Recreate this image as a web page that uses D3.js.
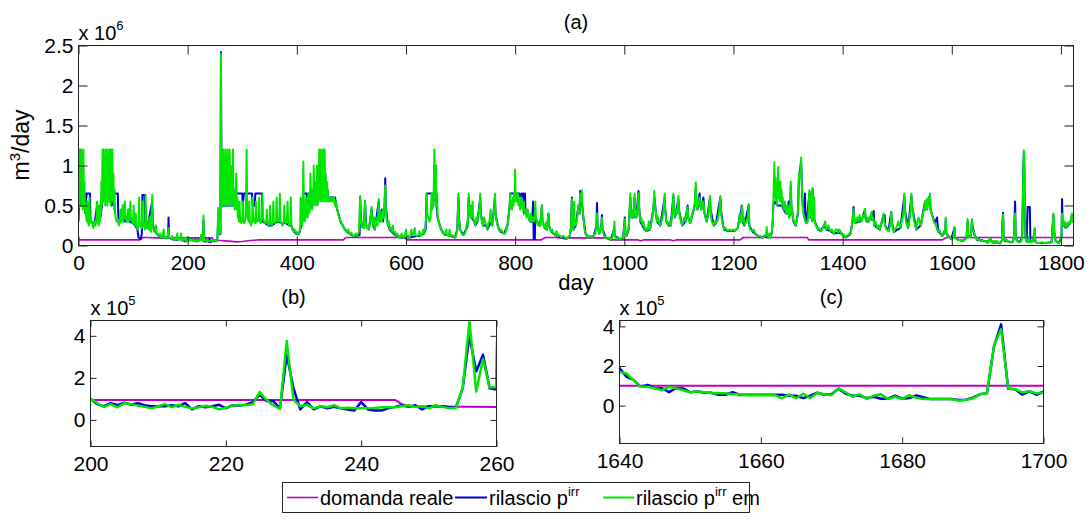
<!DOCTYPE html>
<html>
<head>
<meta charset="utf-8">
<script src="https://cdn.jsdelivr.net/npm/d3@7"></script>
<style>
  body { margin: 0; background: #fff; }
  svg { display: block; }
  text { font-family: "Liberation Sans", Arial, sans-serif; fill: #000; }
</style>
</head>
<body>
<svg id="fig" width="1091" height="523"></svg>
<script>
// ---------------------------------------------------------------
// Data: daily flows in m^3/day.
// Long-run series are stored as [day, value in 10^6 m^3/day];
// the two detail windows are daily values in 10^5 m^3/day.
// ---------------------------------------------------------------

// rilascio p^irr em (green)
const releaseEmPts = [
[0,0.55],[1,1.2],[2,0.48],[3,1.2],[4,0.6],[5,1.2],[6,0.5],[7,0.95],[8,0.45],[9,1.2],[10,0.5],[11,0.8],[12,0.4],[13,0.45],[15,0.3],[16,0.55],[17,0.3],[19,0.25],[20,0.6],[21,0.35],[23,0.28],[25,0.3],[27,0.22],[29,0.3],[31,0.25],[33,0.35],[34,0.55],[35,0.3],[37,0.25],[38,0.5],[39,0.3],[41,0.4],[42,0.8],[43,0.5],[44,1.2],[45,0.55],[46,1.2],[47,0.6],[48,0.9],[49,0.5],[50,1.2],[51,0.55],[52,1.2],[53,0.5],[54,1.0],[55,0.6],[56,1.2],[57,0.55],[58,1.2],[59,0.5],[60,1.2],[61,0.6],[62,1.2],[63,0.55],[64,0.9],[65,0.45],[66,0.7],[67,0.4],[68,0.35],[70,0.3],[72,0.32],[74,0.25],[76,0.3],[77,0.45],[78,0.3],[80,0.35],[81,0.5],[82,0.3],[84,0.4],[85,0.55],[86,0.35],[88,0.3],[90,0.35],[91,0.45],[92,0.3],[94,0.35],[95,0.55],[96,0.35],[98,0.3],[100,0.28],[101,0.5],[102,0.3],[104,0.25],[105,0.4],[106,0.25],[108,0.2],[110,0.25],[111,0.6],[112,0.3],[114,0.25],[116,0.22],[117,0.55],[118,0.3],[120,0.25],[122,0.2],[123,0.63],[124,0.3],[126,0.22],[128,0.2],[130,0.35],[131,0.2],[133,0.17],[135,0.63],[136,0.25],[138,0.18],[140,0.17],[142,0.25],[143,0.15],[146,0.14],[148,0.12],[150,0.15],[151,0.1],[154,0.1],[156,0.2],[157,0.1],[160,0.09],[163,0.1],[165,0.22],[166,0.1],[170,0.08],[172,0.12],[174,0.08],[178,0.07],[181,0.15],[182,0.07],[186,0.08],[188,0.15],[189,0.07],[192,0.06],[195,0.1],[197,0.05],
[261,2.4],[262,0.5],[263,0.9],[264,0.5],[265,1.2],[266,0.55],[267,1.0],[268,0.5],[269,1.2],[270,0.6],[271,0.9],[272,0.5],[273,1.2],[274,0.55],[275,0.8],[276,0.5],[277,1.2],[278,0.6],[279,1.0],[280,0.5],[281,0.75],[282,0.5],[283,1.2],[284,0.55],[285,0.7],[286,0.45],[287,0.65],[288,0.5],[289,0.9],[290,0.45],[291,0.6],[292,0.35],[293,0.5],[294,0.3],[295,0.55],[296,0.3],[297,0.35],[298,0.28],[300,0.3],[301,0.55],[302,0.3],[304,0.28],[306,0.35],[307,0.6],[308,1.2],[309,0.5],[310,0.35],[312,0.3],[313,0.55],[314,0.3],[316,0.25],[318,0.3],[319,0.6],[320,0.35],[322,0.3],[324,0.28],[325,0.55],[326,0.3],[328,0.3],[330,0.35],[331,0.6],[332,0.3],[334,0.28],[336,0.35],[337,0.65],[338,0.35],[340,0.3],[342,0.28],[344,0.3],[345,0.45],[346,0.28],[348,0.25],[350,0.3],[351,0.5],[352,0.28],[354,0.25],[356,0.3],[357,0.55],[358,0.3],[360,0.28],[362,0.3],[363,0.6],[364,0.35],[366,0.3],[368,0.35],[369,0.65],[370,0.3],[372,0.28],[374,0.25],[376,0.3],[377,0.5],[378,0.3],[380,0.28],[382,0.35],[383,0.55],[384,0.3],[386,0.25],[388,0.3],[389,0.6],[390,0.25],[392,0.2],[394,0.18],[396,0.2],[398,0.15],[400,0.17],[402,0.15],[404,0.14],[406,0.2],[407,0.6],[408,0.3],[410,0.25],[411,0.55],[412,1.05],[413,0.45],[414,0.3],[416,0.35],[417,0.6],[418,0.4],[420,0.35],[421,0.65],[422,0.4],[424,0.45],[425,0.9],[426,0.5],[427,0.7],[428,0.45],[429,0.6],[430,0.5],[431,1.0],[432,0.55],[433,0.8],[434,0.5],[435,0.75],[436,0.55],[437,1.0],[438,0.5],[439,0.85],[440,0.55],[441,1.2],[442,0.6],[443,1.2],[444,0.55],[445,1.0],[446,0.6],[447,1.2],[448,0.55],[449,1.2],[450,0.6],[451,1.2],[452,0.55],[453,0.9],[454,0.6],[455,0.8],[456,0.55],[457,0.7],[458,0.55],[460,0.6],[462,0.55],[464,0.6],[466,0.55],[468,0.6],[470,0.5],[472,0.55],[474,0.45],[476,0.4],[478,0.35],[480,0.3],[482,0.28],[484,0.25],[486,0.22],[488,0.2],[490,0.18],[492,0.17],[494,0.2],[496,0.15],[498,0.14],[500,0.16],[502,0.13],[504,0.12],[506,0.12],[508,0.15],[510,0.12],[512,0.14],[514,0.18],[516,0.62],[517,0.35],[519,0.23],[521,0.3],[523,0.22],[525,0.56],[526,0.3],[528,0.22],[530,0.25],[532,0.2],[534,0.3],[537,0.48],[538,0.3],[540,0.25],[542,0.35],[543,0.2],[545,0.3],[547,0.35],[548,0.25],[550,0.58],[551,0.35],[553,0.3],[555,0.42],[556,0.3],[558,0.45],[559,0.35],[561,0.6],[562,0.75],[563,0.45],[565,0.3],[567,0.25],[569,0.3],[570,0.2],[572,0.22],[574,0.18],[576,0.25],[577,0.15],[580,0.17],[582,0.12],[584,0.15],[586,0.1],[588,0.12],[590,0.1],[592,0.15],[594,0.11],[596,0.1],[598,0.13],[600,0.2],[601,0.1],[604,0.12],[606,0.1],[608,0.12],[610,0.2],[611,0.13],[614,0.15],[616,0.22],[617,0.13],[620,0.12],[623,0.13],[625,0.18],[626,0.12],[628,0.13],[630,0.15],[632,0.2],[633,0.15],[635,0.2],[637,0.35],[638,0.65],[639,0.4],[641,0.35],[643,0.3],[645,0.35],[647,0.65],[648,0.45],[650,0.5],[651,0.75],[652,1.2],[653,0.9],[654,0.6],[655,1.0],[656,0.5],[657,0.65],[658,0.35],[660,0.3],[662,0.25],[664,0.2],[666,0.18],[668,0.15],[670,0.14],[672,0.15],[674,0.2],[675,0.13],[678,0.12],[680,0.2],[681,0.12],[684,0.13],[686,0.11],[688,0.12],[690,0.1],[692,0.12],[694,0.2],[696,0.65],[697,0.35],[699,0.2],[702,0.15],[705,0.13],[708,0.15],[710,0.2],[712,0.3],[713,0.25],[715,0.65],[716,0.4],[718,0.35],[719,0.5],[720,0.35],[722,0.55],[723,0.35],[725,0.3],[727,0.25],[729,0.35],[731,0.3],[733,0.4],[735,0.5],[736,0.65],[737,0.4],[739,0.3],[741,0.25],[743,0.35],[745,0.3],[747,0.25],[749,0.2],[751,0.28],[753,0.3],[755,0.45],[756,0.3],[758,0.25],[760,0.35],[762,0.5],[763,0.65],[764,0.4],[766,0.3],[768,0.25],[770,0.2],[772,0.18],[774,0.2],[776,0.18],[778,0.16],[780,0.15],[782,0.15],[784,0.2],[786,0.25],[788,0.35],[790,0.5],[791,0.65],[792,0.5],[794,0.45],[796,0.6],[797,0.5],[798,0.65],[799,0.55],[800,0.95],[801,0.6],[803,0.55],[805,0.65],[806,0.5],[808,0.6],[809,0.45],[811,0.6],[812,0.5],[814,0.45],[816,0.55],[817,0.4],[819,0.45],[821,0.35],[823,0.45],[825,0.35],[827,0.3],[829,0.4],[831,0.3],[833,0.35],[835,0.3],[837,0.55],[838,0.35],[840,0.3],[842,0.25],[844,0.3],[846,0.25],[849,0.5],[850,0.3],[852,0.25],[854,0.22],[856,0.28],[858,0.2],[861,0.4],[862,0.25],[864,0.2],[866,0.18],[868,0.2],[870,0.15],[872,0.15],[874,0.13],[876,0.18],[878,0.12],[880,0.13],[882,0.12],[885,0.1],[888,0.12],[891,0.1],[894,0.08],[897,0.1],[900,0.12],[902,0.2],[904,0.58],[905,0.3],[907,0.2],[908,0.55],[909,0.3],[911,0.25],[913,0.3],[916,0.5],[918,0.4],[919,0.65],[920,0.55],[922,0.69],[923,0.5],[925,0.35],[927,0.2],[929,0.15],[932,0.12],[935,0.1],[938,0.12],[941,0.1],[944,0.12],[947,0.15],[949,0.25],[950,0.4],[951,0.25],[954,0.15],[956,0.2],[958,0.25],[959,0.35],[960,0.2],[963,0.12],[966,0.1],[969,0.08],[972,0.1],[975,0.07],[978,0.1],[981,0.2],[982,0.3],[983,0.12],[986,0.08],[989,0.1],[992,0.07],[995,0.09],[998,0.1],[1001,0.33],[1002,0.15],[1004,0.12],[1006,0.18],[1008,0.2],[1009,0.35],[1010,0.5],[1011,0.65],[1012,0.4],[1014,0.35],[1016,0.45],[1017,0.35],[1019,0.65],[1020,0.45],[1022,0.35],[1024,0.4],[1026,0.65],[1027,0.5],[1029,0.3],[1031,0.35],[1033,0.25],[1035,0.3],[1037,0.2],[1039,0.22],[1041,0.18],[1043,0.2],[1045,0.3],[1047,0.2],[1049,0.25],[1051,0.35],[1053,0.45],[1055,0.68],[1056,0.5],[1058,0.4],[1060,0.3],[1062,0.35],[1064,0.28],[1066,0.25],[1068,0.3],[1070,0.35],[1072,0.45],[1074,0.65],[1075,0.45],[1077,0.3],[1079,0.28],[1081,0.25],[1083,0.3],[1085,0.25],[1087,0.35],[1089,0.5],[1090,0.65],[1091,0.45],[1093,0.35],[1095,0.45],[1097,0.4],[1099,0.62],[1100,0.45],[1102,0.35],[1104,0.3],[1106,0.25],[1108,0.3],[1110,0.35],[1112,0.3],[1114,0.4],[1116,0.48],[1117,0.35],[1119,0.3],[1121,0.28],[1123,0.35],[1125,0.4],[1127,0.45],[1129,0.5],[1131,0.79],[1132,0.55],[1134,0.45],[1136,0.55],[1138,0.6],[1139,0.5],[1141,0.45],[1143,0.55],[1145,0.55],[1147,0.4],[1149,0.35],[1151,0.3],[1153,0.35],[1155,0.45],[1157,0.62],[1158,0.45],[1160,0.3],[1162,0.28],[1164,0.25],[1166,0.3],[1168,0.28],[1170,0.3],[1172,0.35],[1174,0.45],[1176,0.62],[1177,0.45],[1179,0.3],[1181,0.25],[1183,0.2],[1185,0.22],[1187,0.2],[1190,0.18],[1193,0.2],[1196,0.18],[1199,0.2],[1202,0.18],[1205,0.2],[1208,0.22],[1210,0.3],[1212,0.4],[1213,0.3],[1215,0.35],[1216,0.5],[1217,0.3],[1219,0.35],[1220,0.25],[1222,0.28],[1224,0.3],[1226,0.35],[1228,0.52],[1229,0.25],[1231,0.2],[1234,0.18],[1237,0.2],[1240,0.15],[1243,0.13],[1246,0.12],[1249,0.12],[1252,0.1],[1255,0.1],[1258,0.12],[1260,0.15],[1261,0.23],[1262,0.12],[1264,0.1],[1266,0.15],[1268,0.1],[1270,0.15],[1272,0.3],[1273,0.5],[1274,0.8],[1275,1.04],[1276,0.6],[1277,0.85],[1278,0.55],[1279,0.7],[1280,0.5],[1281,0.8],[1282,0.98],[1283,0.6],[1284,0.75],[1285,0.55],[1286,0.8],[1287,0.55],[1288,0.7],[1289,0.5],[1290,0.6],[1292,0.45],[1294,0.55],[1296,0.4],[1298,0.5],[1300,0.4],[1301,0.5],[1302,0.35],[1304,0.4],[1305,0.8],[1306,0.5],[1308,0.4],[1310,0.3],[1312,0.3],[1314,0.25],[1316,0.3],[1318,0.4],[1319,0.6],[1320,0.9],[1322,0.85],[1323,1.0],[1324,1.1],[1325,0.8],[1326,0.65],[1327,0.5],[1328,0.4],[1330,0.35],[1332,0.3],[1334,0.28],[1336,0.3],[1337,0.35],[1339,0.69],[1340,0.45],[1341,0.35],[1342,0.67],[1343,0.4],[1344,0.3],[1345,0.72],[1346,0.45],[1347,0.35],[1348,0.6],[1349,0.3],[1351,0.25],[1353,0.22],[1355,0.2],[1357,0.22],[1360,0.18],[1363,0.2],[1366,0.25],[1368,0.3],[1370,0.2],[1372,0.22],[1374,0.25],[1376,0.2],[1378,0.18],[1380,0.2],[1382,0.17],[1384,0.15],[1386,0.18],[1388,0.2],[1390,0.2],[1392,0.16],[1394,0.2],[1396,0.18],[1398,0.15],[1400,0.12],[1402,0.14],[1404,0.11],[1406,0.1],[1408,0.12],[1410,0.13],[1412,0.15],[1414,0.14],[1416,0.2],[1418,0.3],[1420,0.45],[1421,0.35],[1423,0.28],[1425,0.3],[1427,0.35],[1429,0.3],[1431,0.38],[1432,0.35],[1434,0.3],[1436,0.33],[1438,0.38],[1440,0.35],[1441,0.46],[1442,0.35],[1444,0.3],[1446,0.35],[1448,0.3],[1450,0.33],[1452,0.38],[1453,0.42],[1454,0.32],[1456,0.35],[1458,0.25],[1460,0.3],[1462,0.25],[1464,0.22],[1466,0.25],[1468,0.2],[1470,0.25],[1472,0.3],[1474,0.35],[1475,0.4],[1476,0.3],[1478,0.25],[1480,0.2],[1482,0.2],[1484,0.18],[1486,0.22],[1488,0.3],[1489,0.42],[1490,0.3],[1492,0.2],[1494,0.17],[1496,0.2],[1498,0.22],[1500,0.25],[1502,0.3],[1504,0.25],[1506,0.22],[1508,0.3],[1510,0.35],[1512,0.45],[1513,0.65],[1514,0.45],[1516,0.3],[1518,0.25],[1520,0.22],[1522,0.3],[1524,0.4],[1526,0.65],[1527,0.5],[1529,0.4],[1531,0.3],[1533,0.25],[1535,0.2],[1537,0.3],[1539,0.35],[1541,0.3],[1543,0.25],[1545,0.3],[1547,0.4],[1549,0.45],[1551,0.55],[1552,0.45],[1554,0.58],[1555,0.45],[1557,0.55],[1558,0.6],[1559,0.5],[1560,0.65],[1561,0.45],[1563,0.4],[1565,0.35],[1567,0.3],[1569,0.28],[1571,0.25],[1573,0.2],[1575,0.18],[1577,0.2],[1580,0.15],[1583,0.12],[1586,0.15],[1588,0.2],[1589,0.35],[1590,0.15],[1593,0.12],[1596,0.1],[1599,0.08],[1602,0.1],[1604,0.15],[1605,0.23],[1606,0.1],[1609,0.08],[1612,0.07],[1615,0.07],[1618,0.06],[1621,0.06],[1624,0.07],[1627,0.1],[1629,0.33],[1630,0.12],[1633,0.1],[1635,0.12],[1637,0.33],[1638,0.2],[1639,0.18],
[1703,0.05],[1706,0.04],[1709,0.04],[1712,0.05],[1714,0.1],[1715,0.3],[1716,0.4],[1717,0.15],[1719,0.06],[1721,0.05],[1724,0.04],[1727,0.05],[1729,0.1],[1730,0.5],[1731,0.9],[1732,1.19],[1733,1.15],[1734,0.6],[1735,0.1],[1737,0.05],[1740,0.04],[1741,0.1],[1742,0.06],[1745,0.04],[1748,0.05],[1750,0.1],[1751,0.18],[1752,0.22],[1753,0.05],[1756,0.03],[1760,0.03],[1765,0.04],[1770,0.03],[1775,0.03],[1780,0.03],[1783,0.04],[1785,0.25],[1786,0.4],[1787,0.3],[1788,0.15],[1790,0.06],[1793,0.04],[1796,0.03],[1799,0.05],[1801,0.1],[1802,0.4],[1803,0.3],[1805,0.25],[1807,0.3],[1809,0.22],[1811,0.28],[1813,0.25],[1815,0.3],[1817,0.28],[1819,0.35],[1820,0.4],[1821,0.3],[1822,0.3],[1823,0.32],[1825,0.3]
];
// daily, days 200..260 and 1640..1700 (10^5 m^3/day)
const releaseEmB = [1.0,0.8,0.62,0.75,0.6,0.8,0.75,0.68,0.62,0.55,0.65,0.75,0.6,0.72,0.62,0.55,0.6,0.68,0.62,0.5,0.58,0.68,0.72,0.7,0.75,1.33,0.95,0.7,0.52,3.75,0.95,0.65,0.72,0.55,0.65,0.6,0.7,0.55,0.58,0.56,0.55,0.55,0.57,0.6,0.6,0.6,0.65,0.7,0.62,0.65,0.55,0.7,0.62,0.55,0.58,1.5,4.7,1.35,2.9,1.55,1.55];
const releaseEmC = [1.7,1.62,1.28,0.95,0.95,0.87,0.78,0.95,0.87,0.78,0.67,0.73,0.67,0.62,0.62,0.62,0.57,0.57,0.53,0.53,0.53,0.53,0.53,0.37,0.57,0.37,0.6,0.37,0.65,0.57,0.53,0.87,0.67,0.45,0.57,0.33,0.5,0.57,0.33,0.45,0.33,0.53,0.4,0.33,0.33,0.33,0.33,0.33,0.25,0.28,0.37,0.57,0.62,3.03,3.87,0.87,0.83,0.67,0.73,0.62,0.65];

// rilascio p^irr (blue)
const releasePts = [
[0,0.3],[1,0.6],[3,0.65],[5,0.5],[6,0.65],[12,0.65],[13,0.5],[15,0.65],[21,0.65],[22,0.3],[25,0.28],[30,0.3],[34,0.5],[36,0.28],[40,0.35],[43,0.5],[45,0.65],[60,0.65],[61,0.5],[62,0.65],[72,0.65],[73,0.35],[78,0.3],[82,0.5],[84,0.3],[88,0.3],[92,0.45],[94,0.3],[100,0.28],[104,0.25],[108,0.2],[110,0.1],[114,0.08],[116,0.15],[117,0.63],[121,0.63],[122,0.3],[126,0.22],[135,0.55],[136,0.25],[143,0.15],[148,0.12],[151,0.1],[157,0.1],[164,0.1],[165,0.35],[166,0.1],[170,0.08],[178,0.07],[186,0.08],[192,0.06],[197,0.05],
[261,2.42],[262,0.5],[270,0.5],[287,0.5],[288,0.65],[300,0.65],[301,0.5],[303,0.65],[318,0.65],[319,0.5],[323,0.5],[324,0.65],[336,0.65],[337,0.3],[342,0.28],[348,0.25],[354,0.25],[360,0.28],[366,0.3],[372,0.28],[380,0.28],[386,0.25],[390,0.25],[394,0.18],[398,0.15],[404,0.14],[408,0.25],[410,0.55],[412,0.65],[418,0.65],[419,0.5],[421,0.65],[435,0.65],[436,0.55],[440,0.6],[470,0.6],[472,0.5],[476,0.4],[480,0.3],[484,0.25],[488,0.2],[492,0.17],[498,0.14],[504,0.12],[510,0.12],[515,0.13],[516,0.6],[518,0.25],[523,0.22],[525,0.55],[527,0.25],[532,0.2],[537,0.45],[540,0.25],[543,0.2],[550,0.55],[552,0.3],[556,0.45],[558,0.3],[561,0.5],[562,0.84],[563,0.5],[566,0.3],[570,0.2],[577,0.15],[582,0.12],[590,0.1],[596,0.1],[606,0.1],[620,0.12],[626,0.12],[633,0.15],[636,0.2],[638,0.65],[648,0.65],[650,0.5],[651,0.65],
[655,0.65],[656,0.5],[658,0.35],[662,0.25],[666,0.18],[670,0.14],[675,0.13],[681,0.12],[686,0.11],[690,0.1],[694,0.2],[696,0.6],[697,0.35],[699,0.2],[705,0.13],[710,0.2],[713,0.25],[715,0.6],[716,0.4],[720,0.35],[725,0.3],[727,0.25],[731,0.3],[736,0.6],[737,0.4],[741,0.25],[747,0.25],[749,0.2],[756,0.3],[758,0.25],[763,0.6],[764,0.4],[768,0.25],[772,0.18],[780,0.15],[786,0.25],[790,0.5],[791,0.65],[808,0.65],[809,0.5],[812,0.65],[815,0.65],[816,0.4],[818,0.65],[819,0.45],[825,0.35],[827,0.3],[831,0.3],[833,0.55],[834,0.08],[836,0.08],[837,0.35],[840,0.3],[846,0.25],[849,0.5],[850,0.3],[854,0.22],[858,0.2],[861,0.4],[862,0.25],[866,0.18],[870,0.15],[874,0.13],[878,0.12],[885,0.1],[894,0.08],[900,0.12],[902,0.2],[904,0.6],[905,0.3],[907,0.2],[911,0.25],[916,0.5],[918,0.4],[919,0.68],[920,0.55],[923,0.5],[925,0.35],[929,0.15],[935,0.1],[944,0.12],[949,0.25],[950,0.53],[951,0.25],[954,0.15],[958,0.25],[959,0.38],[960,0.2],[966,0.1],[975,0.07],[981,0.2],[983,0.12],[992,0.07],[998,0.1],[1001,0.35],[1002,0.15],[1004,0.12],[1008,0.2],[1011,0.6],[1012,0.4],[1014,0.35],[1017,0.35],[1019,0.6],[1020,0.45],[1022,0.35],[1026,0.68],[1027,0.5],[1029,0.3],[1033,0.25],[1037,0.2],[1041,0.18],[1047,0.2],[1053,0.45],[1055,0.6],[1056,0.55],[1058,0.4],[1060,0.3],[1066,0.25],[1074,0.6],[1075,0.45],[1077,0.3],[1081,0.25],[1085,0.25],[1090,0.62],[1091,0.45],[1093,0.35],[1099,0.58],[1100,0.45],[1106,0.25],[1112,0.3],[1116,0.5],[1117,0.35],[1121,0.28],[1129,0.5],[1131,0.72],[1132,0.55],[1134,0.45],[1138,0.65],[1139,0.5],[1141,0.45],[1145,0.6],[1147,0.4],[1151,0.3],[1157,0.6],[1158,0.45],[1164,0.25],[1168,0.28],[1176,0.6],[1177,0.45],[1181,0.25],[1183,0.2],[1190,0.18],[1202,0.18],[1208,0.22],[1212,0.4],[1213,0.3],[1215,0.5],[1216,0.45],[1217,0.3],[1220,0.25],[1228,0.5],[1229,0.25],[1234,0.18],[1243,0.13],[1252,0.1],[1258,0.12],[1264,0.1],[1270,0.15],[1272,0.3],[1273,0.5],[1276,0.55],[1278,0.55],[1280,0.5],[1289,0.5],[1292,0.45],[1296,0.4],[1300,0.4],[1301,0.55],[1302,0.35],[1304,0.4],[1305,0.75],[1306,0.5],[1310,0.3],[1314,0.25],[1318,0.4],[1320,0.85],[1324,1.05],[1326,0.6],[1327,0.5],[1330,0.35],[1331,0.65],[1332,0.3],[1334,0.28],[1339,0.65],[1341,0.35],[1345,0.7],[1347,0.35],[1349,0.3],[1355,0.2],[1360,0.18],[1366,0.25],[1370,0.2],[1378,0.18],[1384,0.15],[1392,0.16],[1398,0.15],[1404,0.11],[1406,0.1],[1414,0.14],[1418,0.3],[1420,0.48],[1421,0.35],[1423,0.28],[1429,0.3],[1434,0.3],[1441,0.45],[1442,0.35],[1444,0.3],[1448,0.3],[1453,0.4],[1454,0.32],[1457,0.43],[1458,0.25],[1464,0.22],[1468,0.2],[1475,0.38],[1477,0.38],[1478,0.25],[1484,0.18],[1489,0.42],[1490,0.3],[1494,0.17],[1506,0.22],[1513,0.62],[1514,0.45],[1520,0.22],[1526,0.62],[1527,0.5],[1535,0.2],[1543,0.25],[1551,0.55],[1552,0.45],[1558,0.6],[1560,0.62],[1561,0.45],[1569,0.28],[1573,0.35],[1575,0.18],[1583,0.12],[1588,0.2],[1589,0.33],[1590,0.15],[1599,0.08],[1605,0.22],[1606,0.1],[1612,0.07],[1621,0.06],[1627,0.1],[1629,0.3],[1630,0.12],[1635,0.12],[1637,0.3],[1639,0.2],
[1703,0.05],[1709,0.04],[1712,0.05],[1714,0.1],[1716,0.55],[1717,0.15],[1719,0.06],[1724,0.04],[1729,0.1],[1731,0.9],[1732,1.15],[1734,0.5],[1735,0.1],[1737,0.05],[1739,0.48],[1743,0.48],[1744,0.04],[1748,0.05],[1750,0.1],[1752,0.2],[1753,0.05],[1756,0.03],[1770,0.03],[1783,0.04],[1786,0.38],[1788,0.15],[1790,0.06],[1796,0.03],[1801,0.1],[1802,0.58],[1803,0.3],[1805,0.25],[1809,0.22],[1813,0.25],[1817,0.28],[1820,0.38],[1821,0.3],[1825,0.3]
];
const releaseB = [1.0,0.75,0.65,0.8,0.7,0.82,0.72,0.8,0.7,0.65,0.65,0.65,0.7,0.65,0.8,0.5,0.65,0.6,0.65,0.72,0.55,0.7,0.68,0.72,0.85,1.2,0.9,0.9,0.55,3.1,1.5,0.5,0.85,0.5,0.65,0.55,0.62,0.55,0.5,0.45,0.85,0.5,0.45,0.45,0.55,0.62,0.7,0.62,0.7,0.5,0.65,0.65,0.65,0.6,0.6,1.5,4.0,2.3,3.1,1.5,1.45];
const releaseC = [1.9,1.45,1.3,0.95,1.05,0.87,0.88,0.68,0.88,0.87,0.67,0.73,0.65,0.65,0.55,0.55,0.68,0.55,0.55,0.55,0.55,0.55,0.55,0.55,0.5,0.5,0.38,0.5,0.65,0.55,0.57,0.85,0.6,0.5,0.5,0.38,0.45,0.35,0.35,0.5,0.35,0.38,0.52,0.42,0.33,0.33,0.33,0.33,0.28,0.3,0.4,0.57,0.62,3.0,4.1,0.85,0.83,0.55,0.72,0.55,0.7];

// domanda reale (magenta), 10^6 m^3/day
const demandPts = [
[0,0.07],[112,0.07],[118,0.1],[125,0.1],[145,0.095],[245,0.095],[246,0.075],[247,0.065],[260,0.062],[275,0.055],[290,0.045],[300,0.05],[310,0.06],[330,0.07],[485,0.07],[490,0.1],[598,0.1],[602,0.07],[848,0.07],[855,0.1],[875,0.1],[880,0.095],[970,0.095],[976,0.07],[1025,0.07],[1030,0.06],[1035,0.07],[1085,0.07],[1090,0.06],[1095,0.07],[1212,0.07],[1218,0.1],[1335,0.1],[1338,0.07],[1583,0.07],[1590,0.1],[1825,0.1]
];

// axes ticks
const ticksDayA = [0, 200, 400, 600, 800, 1000, 1200, 1400, 1600, 1800];
const ticksFlowA = [0, 0.5, 1, 1.5, 2, 2.5];
const ticksDayB = [200, 220, 240, 260];
const ticksDayC = [1640, 1660, 1680, 1700];
const ticksFlowBC = [0, 0.2, 0.4];

const legendLabels = ["domanda reale", "rilascio p", "rilascio p"];

// ---------------------------------------------------------------
const daily = (start, arr) => arr.map((v, i) => [start + i, v / 10]);
const merged = (...parts) => parts.flat().sort((a, b) => a[0] - b[0]);

// keep the points inside [lo, hi] plus one neighbour on each side
function windowed(data, lo, hi) {
  let i0 = data.findIndex(d => d[0] >= lo);
  if (i0 < 0) return [];
  i0 = Math.max(0, i0 - 1);
  let i1 = data.length - 1;
  for (let i = data.length - 1; i >= 0; i--) { if (data[i][0] <= hi) { i1 = i; break; } }
  i1 = Math.min(data.length - 1, i1 + 1);
  return data.slice(i0, i1 + 1);
}

const seriesList = [
  { key: "demand", color: "#c000c0", width: 1.6, data: demandPts },
  { key: "release", color: "#0000dd", width: 2, data: merged(releasePts, daily(200, releaseB), daily(1640, releaseC)) },
  { key: "releaseEm", color: "#00e600", width: 2, data: merged(releaseEmPts, daily(200, releaseEmB), daily(1640, releaseEmC)) }
];

const svg = d3.select("#fig");
svg.append("rect").attr("width", 1091).attr("height", 523).attr("fill", "#fff");

const panels = [
  { id: "a", left: 78.5, right: 1073.5, top: 45.5, bottom: 245.5, xDomain: [0, 1823], yDomain: [0, 2.5],
    xTicks: ticksDayA, yTicks: ticksFlowA, yFmt: d => d3.format("~g")(d), exp: "6",
    tick: 9, widthScale: 1, title: "(a)", titleY: 29, expY: 40 },
  { id: "b", left: 90.5, right: 496.5, top: 320.5, bottom: 446.5, xDomain: [200, 260], yDomain: [-0.1265, 0.473],
    xTicks: ticksDayB, yTicks: ticksFlowBC, yFmt: d => d3.format("~g")(Math.round(d * 10)), exp: "5",
    tick: 6, widthScale: 1.25, title: "(b)", titleY: 304, expY: 315 },
  { id: "c", left: 619.5, right: 1043.5, top: 320.5, bottom: 443.5, xDomain: [1640, 1700], yDomain: [-0.191, 0.4296],
    xTicks: ticksDayC, yTicks: ticksFlowBC, yFmt: d => d3.format("~g")(Math.round(d * 10)), exp: "5",
    tick: 6, widthScale: 1.25, title: "(c)", titleY: 304, expY: 315 }
];

const FONT = 21;

panels.forEach(p => {
  const x = d3.scaleLinear().domain(p.xDomain).range([p.left, p.right]);
  const y = d3.scaleLinear().domain(p.yDomain).range([p.bottom, p.top]);
  const g = svg.append("g").attr("class", "panel-" + p.id);

  g.append("clipPath").attr("id", "clip-" + p.id)
    .append("rect").attr("x", p.left).attr("y", p.top)
    .attr("width", p.right - p.left).attr("height", p.bottom - p.top);

  const plot = g.append("g").attr("clip-path", `url(#clip-${p.id})`);
  const line = d3.line().x(d => x(d[0])).y(d => y(d[1]));
  seriesList.forEach(s => {
    plot.append("path").datum(windowed(s.data, p.xDomain[0], p.xDomain[1]))
      .attr("d", line)
      .attr("fill", "none")
      .attr("stroke", s.color)
      .attr("stroke-width", s.width * p.widthScale)
      .attr("stroke-linejoin", "round");
  });

  // axes: ticks drawn inward on all four sides
  const styleAxis = sel => {
    sel.attr("color", "#222");
    sel.select(".domain").remove();
    sel.selectAll("text").attr("font-size", FONT).attr("font-family", '"Liberation Sans", Arial, sans-serif').attr("fill", "#000");
  };
  g.append("g").attr("transform", `translate(0,${p.bottom})`)
    .call(d3.axisBottom(x).tickValues(p.xTicks).tickSizeInner(-p.tick).tickSizeOuter(0).tickPadding(10).tickFormat(d3.format("d")))
    .call(styleAxis);
  g.append("g").attr("transform", `translate(0,${p.top})`)
    .call(d3.axisTop(x).tickValues(p.xTicks).tickSizeInner(-p.tick).tickSizeOuter(0).tickFormat(""))
    .call(styleAxis);
  g.append("g").attr("transform", `translate(${p.left},0)`)
    .call(d3.axisLeft(y).tickValues(p.yTicks).tickSizeInner(-p.tick).tickSizeOuter(0).tickPadding(5).tickFormat(p.yFmt))
    .call(styleAxis);
  g.append("g").attr("transform", `translate(${p.right},0)`)
    .call(d3.axisRight(y).tickValues(p.yTicks).tickSizeInner(-p.tick).tickSizeOuter(0).tickFormat(""))
    .call(styleAxis);

  g.append("rect")
    .attr("x", p.left).attr("y", p.top)
    .attr("width", p.right - p.left).attr("height", p.bottom - p.top)
    .attr("fill", "none").attr("stroke", "#222").attr("stroke-width", 1);

  // exponent label
  const ex = g.append("text").attr("x", p.left).attr("y", p.expY).attr("font-size", 20).text("x 10");
  ex.append("tspan").attr("dy", -10).attr("font-size", 13).text(p.exp);

  // panel title
  g.append("text").attr("x", (p.left + p.right) / 2).attr("y", p.titleY)
    .attr("text-anchor", "middle").attr("font-size", 20).text(p.title);
});

// axis titles for panel (a)
svg.append("text").attr("x", 576).attr("y", 290).attr("text-anchor", "middle").attr("font-size", 22).text("day");
const yl = svg.append("text")
  .attr("transform", "translate(29,145) rotate(-90)")
  .attr("text-anchor", "middle").attr("font-size", 23).text("m");
yl.append("tspan").attr("dy", -9).attr("font-size", 15).text("3");
yl.append("tspan").attr("dy", 9).text("/day");

// legend
const lg = svg.append("g");
lg.append("rect").attr("x", 282.5).attr("y", 482.5).attr("width", 467).attr("height", 30)
  .attr("fill", "#fff").attr("stroke", "#222").attr("stroke-width", 1);
const legendItems = [
  { s: seriesList[0], x1: 287, x2: 318, tx: 320, label: legendLabels[0], sup: null, tail: null },
  { s: seriesList[1], x1: 455, x2: 487, tx: 489, label: legendLabels[1], sup: "irr", tail: null },
  { s: seriesList[2], x1: 603, x2: 634, tx: 636, label: legendLabels[2], sup: "irr", tail: " em" }
];
legendItems.forEach(it => {
  lg.append("line").attr("x1", it.x1).attr("x2", it.x2).attr("y1", 497.5).attr("y2", 497.5)
    .attr("stroke", it.s.color).attr("stroke-width", it.s.width);
  const t = lg.append("text").attr("x", it.tx).attr("y", 505).attr("font-size", 20).text(it.label);
  if (it.sup) t.append("tspan").attr("dy", -9).attr("font-size", 13).text(it.sup);
  if (it.tail) t.append("tspan").attr("dy", 9).text(it.tail);
});
</script>
</body>
</html>
